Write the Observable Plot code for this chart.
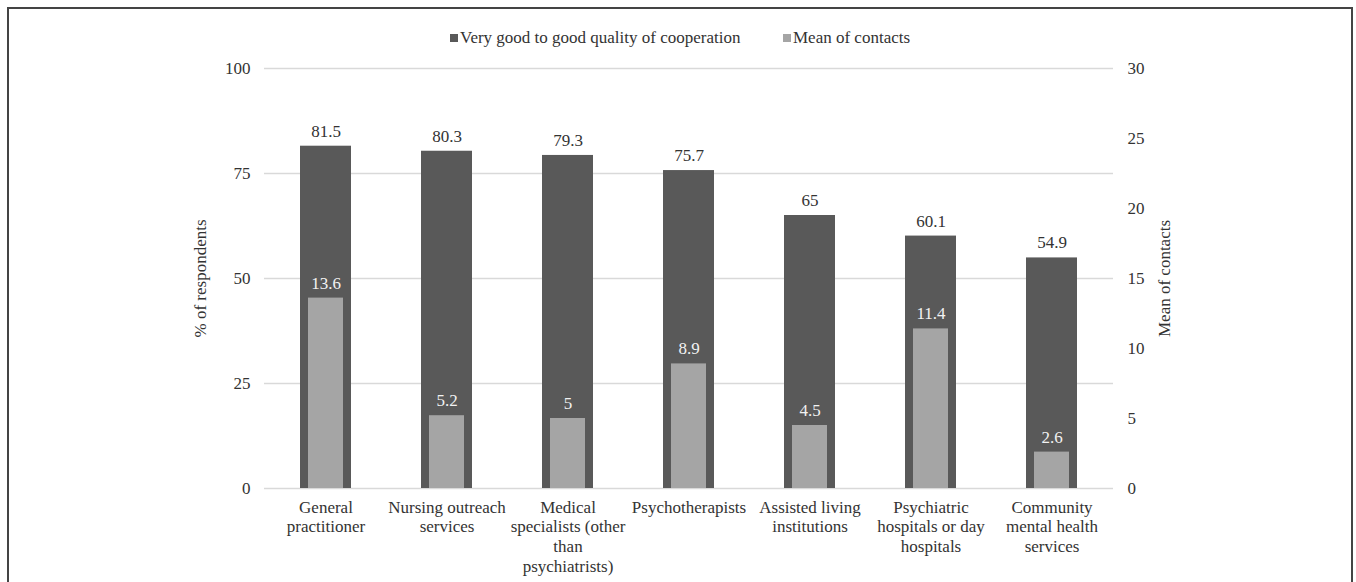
<!DOCTYPE html>
<html><head><meta charset="utf-8">
<script src="https://cdn.jsdelivr.net/npm/d3@7"></script>
<script src="https://cdn.jsdelivr.net/npm/@observablehq/plot@0.6"></script>
<style>
body{margin:0;background:#fff;font-family:"Liberation Serif",serif;color:#333;width:1356px;height:582px;overflow:hidden;position:relative;}
#frame{position:absolute;left:7px;top:7px;width:1346px;height:620px;border:2px solid #444;box-sizing:border-box;z-index:5;pointer-events:none;}
.leg{position:absolute;top:28px;font-size:17px;line-height:19px;white-space:nowrap;}
.sw{display:inline-block;width:8px;height:8px;margin-right:2px;vertical-align:1px;}
#chart{position:absolute;left:0;top:50px;}
</style></head>
<body>
<div id="chart"></div>
<div class="leg" style="left:450px"><span class="sw" style="background:#595959"></span>Very good to good quality of cooperation</div>
<div class="leg" style="left:783px"><span class="sw" style="background:#a5a5a5"></span>Mean of contacts</div>
<div id="frame"></div>
<script>
const categories = ["General practitioner","Nursing outreach services","Medical specialists (other than psychiatrists)","Psychotherapists","Assisted living institutions","Psychiatric hospitals or day hospitals","Community mental health services"];
const tickLabels = ["General\npractitioner","Nursing outreach\nservices","Medical\nspecialists (other\nthan\npsychiatrists)","Psychotherapists","Assisted living\ninstitutions","Psychiatric\nhospitals or day\nhospitals","Community\nmental health\nservices"];
const quality = [81.5, 80.3, 79.3, 75.7, 65, 60.1, 54.9];
const contacts = [13.6, 5.2, 5, 8.9, 4.5, 11.4, 2.6];
const leftTicks = [0, 25, 50, 75, 100];
const rightTicks = [0, 5, 10, 15, 20, 25, 30];
const leftMax = 100, rightMax = 30;
const toLeft = v => v * leftMax / rightMax;

const rows = categories.map((c, i) => ({category: c, quality: quality[i], contacts: contacts[i]}));

const chart = Plot.plot({
  width: 1356,
  height: 532,
  marginTop: 18,
  marginBottom: 94,
  marginLeft: 264,
  marginRight: 243,
  style: {fontFamily: "Liberation Serif, serif", fontSize: "17px", color: "#333", background: "none"},
  x: {domain: categories, paddingInner: 0.58, paddingOuter: 0.29},
  y: {domain: [0, leftMax]},
  marks: [
    Plot.gridY(leftTicks, {stroke: "#d9d9d9", strokeOpacity: 1, strokeWidth: 1.3}),
    Plot.barY(rows, {x: "category", y: "quality", fill: "#595959"}),
    Plot.barY(rows, {x: "category", y: d => toLeft(d.contacts), fill: "#a5a5a5", insetLeft: 8, insetRight: 8}),
    Plot.text(rows, {x: "category", y: "quality", text: d => String(d.quality), dy: -15, fill: "#333", fontSize: 17}),
    Plot.text(rows, {x: "category", y: d => toLeft(d.contacts), text: d => String(d.contacts), dy: -15, fill: "#f2f2f2", fontSize: 17}),
    Plot.axisY(leftTicks, {anchor: "left", tickSize: 0, tickPadding: 14, fontSize: 17, label: "% of respondents", labelAnchor: "center", labelArrow: "none", labelOffset: 71}),
    Plot.axisY(rightTicks.map(toLeft), {anchor: "right", tickSize: 0, tickPadding: 14, fontSize: 17, tickFormat: d => String(Math.round(d * rightMax / leftMax)), label: "Mean of contacts", labelAnchor: "center", labelArrow: "none", labelOffset: 56}),
    Plot.axisX({tickSize: 0, tickPadding: 10, fontSize: 17, lineHeight: 1.16, tickFormat: c => tickLabels[categories.indexOf(c)], label: null})
  ]
});
document.getElementById("chart").appendChild(chart);
</script>
</body></html>
